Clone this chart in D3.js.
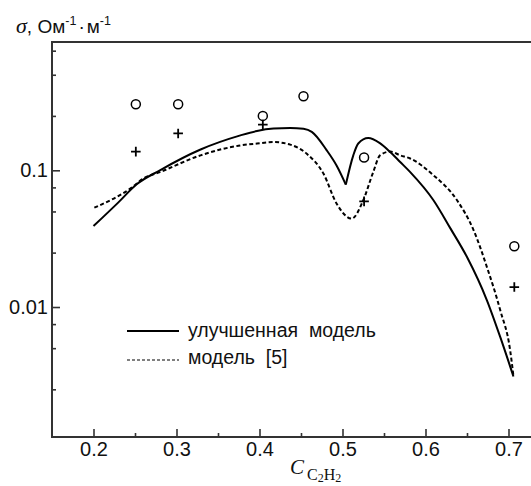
<!DOCTYPE html>
<html>
<head>
<meta charset="utf-8">
<script src="https://cdn.jsdelivr.net/npm/d3@7"></script>
<style>
  html, body { margin: 0; padding: 0; background: #fff; }
  svg { display: block; }
</style>
</head>
<body>
<svg id="chart" width="531" height="486"></svg>
<script>
// MARK: Data.

const improvedX = [0.200, 0.230, 0.252, 0.280, 0.329, 0.377, 0.397, 0.417, 0.437, 0.453, 0.463,
                   0.481, 0.493, 0.504, 0.513, 0.519, 0.531, 0.545, 0.5575, 0.5695, 0.5816,
                   0.6096, 0.630, 0.650, 0.674, 0.690, 0.706]
const improvedY = [0.0391, 0.0583, 0.079, 0.100, 0.142, 0.180, 0.194, 0.202, 0.204, 0.201, 0.191,
                   0.140, 0.108, 0.0786, 0.1287, 0.157, 0.172, 0.158, 0.136, 0.115, 0.097,
                   0.0604, 0.0376, 0.0232, 0.0112, 0.00604, 0.0031]
const cuspIndex  = 13

const model5X = [0.201, 0.246, 0.260, 0.280, 0.329, 0.377, 0.397, 0.417, 0.437, 0.457, 0.477,
                 0.493, 0.511, 0.525, 0.537, 0.5454, 0.5575, 0.5695, 0.5816, 0.6096, 0.638,
                 0.658, 0.674, 0.690, 0.702, 0.706]
const model5Y = [0.0533, 0.0747, 0.087, 0.097, 0.1287, 0.152, 0.157, 0.161, 0.154, 0.132, 0.0946,
                 0.057, 0.0443, 0.0604, 0.097, 0.129, 0.137, 0.1287, 0.122, 0.092, 0.0604,
                 0.0364, 0.0196, 0.0095, 0.00482, 0.0031]

const circleX = [0.251, 0.302, 0.404, 0.453, 0.526, 0.707]
const circleY = [0.304, 0.304, 0.250, 0.348, 0.124, 0.0278]

const plusX = [0.251, 0.302, 0.404, 0.526, 0.707]
const plusY = [0.137, 0.186, 0.216, 0.0593, 0.014]

const xMajorTicks = [0.2, 0.3, 0.4, 0.5, 0.6, 0.7]
const xMinorTicks = [0.25, 0.35, 0.45, 0.55, 0.65, 0.75]
const yMajorTicks = [0.1, 0.01]
const yMinorTicks = [0.75, 0.5, 0.25, 0.075, 0.05, 0.025, 0.0075, 0.005, 0.0025]

const legendLabels = ['улучшенная  модель', 'модель  [5]']

// MARK: Some constants.

const SANS  = '"Liberation Sans", Arial, sans-serif'
const SERIF = '"Liberation Serif", "Times New Roman", serif'
const AXIS_COLOR = '#333'
const PLUS_HALF  = 4.8

const svg = d3.select('#chart')

const x = d3.scaleLinear().domain([0.15, 0.75]).range([52, 550])
const y = d3.scaleLog().domain([0.00112, 0.868]).range([437, 42])

const [x0, x1] = x.range()
const [y0, y1] = y.range()

// MARK: Axes.

function styleAxis(g) {
  g.select('.domain').remove()
  g.selectAll('line').attr('stroke', AXIS_COLOR).attr('stroke-width', 1.6)
  g.selectAll('text')
    .attr('fill', '#111')
    .style('font-family', SANS)
    .style('font-size', '20px')
}

svg.append('g')
  .attr('transform', `translate(${x0},0)`)
  .call(d3.axisLeft(y).tickValues(yMinorTicks).tickSize(-4).tickFormat(''))
  .call(styleAxis)
svg.append('g')
  .attr('transform', `translate(${x0},0)`)
  .call(d3.axisLeft(y).tickValues(yMajorTicks).tickSize(-8).tickPadding(4)
    .tickFormat((d) => String(d)))
  .call(styleAxis)

svg.append('g')
  .attr('transform', `translate(0,${y0})`)
  .call(d3.axisBottom(x).tickValues(xMinorTicks).tickSize(-4).tickFormat(''))
  .call(styleAxis)
svg.append('g')
  .attr('transform', `translate(0,${y0})`)
  .call(d3.axisBottom(x).tickValues(xMajorTicks).tickSize(-8).tickPadding(5)
    .tickFormat(d3.format('.1f')))
  .call(styleAxis)

// Frame: left, bottom and top (the right side is cut off by the picture).
svg.append('path')
  .attr('d', `M${x1},${y1} L${x0},${y1} L${x0},${y0} L${x1},${y0}`)
  .attr('fill', 'none')
  .attr('stroke', AXIS_COLOR)
  .attr('stroke-width', 2)

// MARK: Curves.

const line = d3.line()
  .x((d) => x(d[0]))
  .y((d) => y(d[1]))
  .curve(d3.curveMonotoneX)

const improved = improvedX.map((v, i) => [v, improvedY[i]])
const model5   = model5X.map((v, i) => [v, model5Y[i]])

// The improved model has a sharp cusp, so draw it in two pieces.
for (const part of [improved.slice(0, cuspIndex + 1), improved.slice(cuspIndex)]) {
  svg.append('path')
    .attr('d', line(part))
    .attr('fill', 'none')
    .attr('stroke', '#000')
    .attr('stroke-width', 2)
}

svg.append('path')
  .attr('d', line(model5))
  .attr('fill', 'none')
  .attr('stroke', '#000')
  .attr('stroke-width', 2)
  .attr('stroke-dasharray', '4,2.5')

// MARK: Measured points.

svg.append('g').selectAll('circle')
  .data(circleX.map((v, i) => [v, circleY[i]]))
  .join('circle')
  .attr('cx', (d) => x(d[0]))
  .attr('cy', (d) => y(d[1]))
  .attr('r', 4.5)
  .attr('fill', 'none')
  .attr('stroke', '#000')
  .attr('stroke-width', 1.5)

svg.append('g').selectAll('path')
  .data(plusX.map((v, i) => [v, plusY[i]]))
  .join('path')
  .attr('d', `M${-PLUS_HALF},0H${PLUS_HALF}M0,${-PLUS_HALF}V${PLUS_HALF}`)
  .attr('transform', (d) => `translate(${x(d[0])},${y(d[1])})`)
  .attr('fill', 'none')
  .attr('stroke', '#000')
  .attr('stroke-width', 1.8)

// MARK: Legend.

const legend = svg.append('g').attr('transform', 'translate(127,331)')
legendLabels.forEach((label, i) => {
  const row = legend.append('g').attr('transform', `translate(0,${i * 29})`)
  row.append('line')
    .attr('x1', 0).attr('x2', 52)
    .attr('stroke', '#000')
    .attr('stroke-width', i === 0 ? 2 : 1.2)
    .attr('stroke-dasharray', i === 0 ? null : '3,2')
  row.append('text')
    .attr('x', 61)
    .attr('y', i === 0 ? 6 : 4)
    .attr('fill', '#111')
    .style('font-family', SANS)
    .style('font-size', '19.5px')
    .style('white-space', 'pre')
    .text(label)
})

// MARK: Axis titles.

const yTitle = svg.append('text')
  .attr('x', 16)
  .attr('y', 33)
  .attr('fill', '#111')
  .style('font-family', SANS)
  .style('font-size', '19px')
yTitle.append('tspan').style('font-family', SERIF).style('font-style', 'italic')
  .style('font-size', '22px').text('σ')
yTitle.append('tspan').text(', Ом')
yTitle.append('tspan').attr('dy', -8).style('font-size', '12.5px').text('-1')
yTitle.append('tspan').attr('dy', 8).attr('dx', 2).text('·')
yTitle.append('tspan').attr('dx', 2).text('м')
yTitle.append('tspan').attr('dy', -8).style('font-size', '12.5px').text('-1')

const xTitle = svg.append('text')
  .attr('x', 290)
  .attr('y', 474)
  .attr('fill', '#111')
  .style('font-family', SERIF)
  .style('font-size', '21px')
xTitle.append('tspan').style('font-style', 'italic').text('C')
xTitle.append('tspan').attr('dx', 3).attr('dy', 6).style('font-size', '16px').text('C')
xTitle.append('tspan').attr('dy', 2).style('font-size', '12px').text('2')
xTitle.append('tspan').attr('dy', -2).style('font-size', '16px').text('H')
xTitle.append('tspan').attr('dy', 2).style('font-size', '12px').text('2')
</script>
</body>
</html>
